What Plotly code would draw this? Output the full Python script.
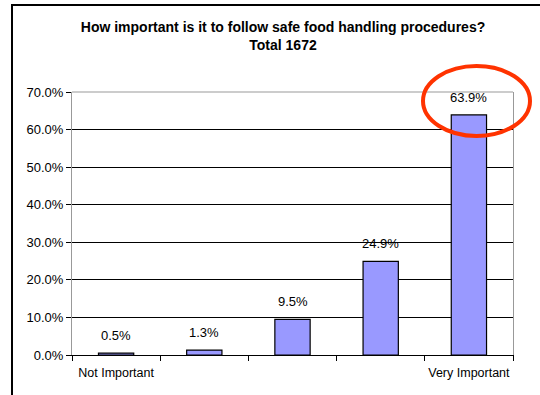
import plotly.graph_objects as go

categories = ["c1", "c2", "c3", "c4", "c5"]
tick_labels = ["Not Important", "", "", "", "Very Important"]
values = [0.5, 1.3, 9.5, 24.9, 63.9]
value_labels = ["0.5%", "1.3%", "9.5%", "24.9%", "63.9%"]
y_ticks = [0, 10, 20, 30, 40, 50, 60, 70]

L, R, T, B = 72, 27, 92, 40
W, H = 540, 395
pw, ph = W - L - R, H - T - B
FONT = "Liberation Sans, Arial"

def px(x):
    return (x - L) / pw

def py(y):
    return (H - B - y) / ph

fig = go.Figure(go.Bar(
    x=categories, y=values,
    marker=dict(color="#9999FF", line=dict(color="black", width=1.2)),
))

for c, v, t in zip(categories, values, value_labels):
    fig.add_annotation(x=c, y=v, text=t, showarrow=False, yanchor="bottom",
                       yshift=8, font=dict(family=FONT, size=13, color="black"))

fig.update_layout(
    width=W, height=H, margin=dict(l=L, r=R, t=T, b=B, autoexpand=False),
    paper_bgcolor="white", plot_bgcolor="white",
    bargap=0.6, showlegend=False,
    font=dict(family=FONT, size=12.5, color="black"),
    title=dict(text="<b>How important is it to follow safe food handling procedures?<br>Total 1672</b>",
               xref="container", x=283 / W, xanchor="center",
               yref="container", y=1 - 32 / H, yanchor="top",
               font=dict(size=14, color="black")),
)
fig.update_xaxes(
    tickvals=categories, ticktext=tick_labels, tickson="boundaries",
    ticks="outside", ticklen=5, tickcolor="black", tickangle=0, automargin=False,
    showline=True, linecolor="black", linewidth=1, showgrid=False,
    tickfont=dict(size=12.5), range=[-0.5, 4.5], ticklabelstandoff=6,
)
fig.update_yaxes(
    range=[0, 70], tickvals=y_ticks, ticktext=[f"{v:.1f}%" for v in y_ticks],
    ticks="outside", ticklen=5, tickcolor="black", automargin=False,
    showgrid=True, gridcolor="black", gridwidth=1,
    showline=True, linecolor="#999999", linewidth=1, mirror=True,
    zeroline=False, tickfont=dict(size=13),
)
fig.add_shape(type="line", xref="paper", yref="paper", x0=0, x1=1, y0=1, y1=1,
              line=dict(color="#999999", width=1), layer="above")
fig.add_shape(type="rect", xref="paper", yref="paper",
              x0=px(12), x1=px(548), y0=py(5), y1=py(402),
              line=dict(color="black", width=2), layer="above")
fig.add_shape(type="circle", xref="paper", yref="paper",
              x0=px(423), x1=px(530), y0=py(66), y1=py(136),
              line=dict(color="#FF3300", width=4), layer="above")

fig.write_html("out.html")
